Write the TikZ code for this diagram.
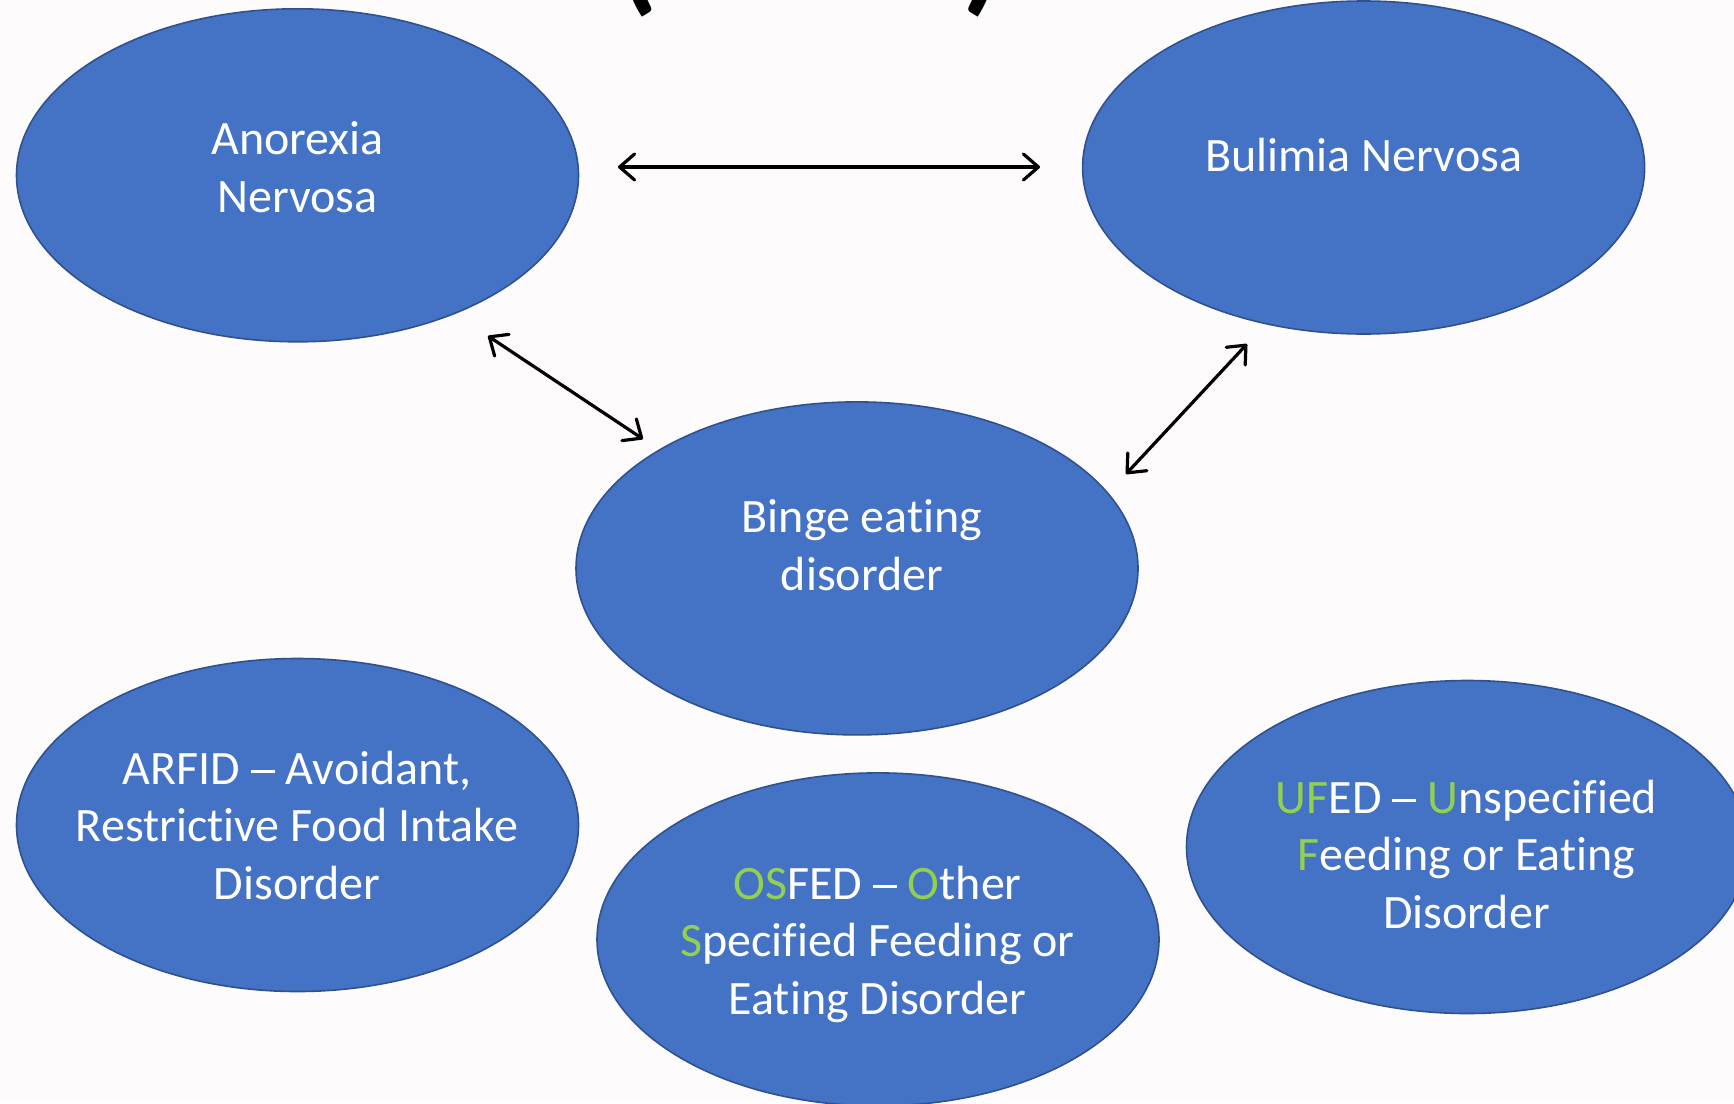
\documentclass[tikz,border=0pt]{standalone}
\usepackage{fontspec}
\setmainfont{Carlito}[Ligatures={NoCommon}]
\usetikzlibrary{shapes.geometric,arrows.meta,calc}
\definecolor{bg}{RGB}{253,251,252}
\definecolor{ellfill}{HTML}{4472C4}
\definecolor{elldraw}{HTML}{2F528F}
\definecolor{hl}{HTML}{92D050}
\tikzset{
  ell/.style={ellipse, fill=ellfill, draw=elldraw, line width=1.6pt,
    minimum width=562pt, minimum height=333pt, inner sep=0pt},
  txt/.style={text=white, align=center, inner sep=0pt,
    font=\fontsize{48}{57.5}\selectfont},
  link/.style={line width=3.2pt, {Straight Barb[length=15pt,width=26pt,round]}-{Straight Barb[length=15pt,width=26pt,round]}},
  paren/.style={font=\bfseries\fontsize{130}{150}\selectfont, anchor=base, inner sep=0pt}
}
\newcommand{\dsh}{\rule[0.23em]{0.5em}{0.065em}}
\begin{document}
\begin{tikzpicture}[x=1pt,y=-1pt]
\useasboundingbox (0,0) rectangle (1734,1103);
\clip (0,0) rectangle (1734,1103);
\fill[bg] (0,0) rectangle (1734,1103);

% clipped title fragments
\node[paren] (pl) at (638,-3) {(};
\node[paren] (pr) at (983,-3) {)};

% ellipses
\node[ell] (an) at (297.5,175.3) {};
\node[ell] (bn) at (1363.6,167.5) {};
\node[ell] (be) at (857,568.4) {};
\node[ell] (ar) at (297.5,825) {};
\node[ell] (os) at (878,939.4) {};
\node[ell] (uf) at (1467.5,847) {};

% texts
\node[txt] (tan) at (297.5,167) {Anorexia\\Nervosa};
\node[txt] (tbn) at (1363.6,154.8) {Bulimia Nervosa};
\node[txt] (tbe) at (862,545) {Binge eating\\disorder};
\node[txt] (tar) at (297,825) {ARFID \dsh{} Avoidant,\\Restrictive Food Intake\\Disorder};
\node[txt] (tos) at (877.5,944.4) {\textcolor{hl}{OS}FED \dsh{} \textcolor{hl}{O}ther\\\textcolor{hl}{S}pecified Feeding or\\Eating Disorder};
\node[txt] (tuf) at (1466.5,854.3) {\textcolor{hl}{UF}ED \dsh{} \textcolor{hl}{U}nspecified\\\textcolor{hl}{F}eeding or Eating\\Disorder};

% connector end points
\coordinate (h1) at (618,167);
\coordinate (h2) at (1040,167);
\coordinate (d1) at (488,336);
\coordinate (d2) at (643,439);
\coordinate (e1) at (1247,344);
\coordinate (e2) at (1126,474);

\draw[link] (h1) -- (h2);
\draw[link] (d1) -- (d2);
\draw[link] (e1) -- (e2);
\end{tikzpicture}
\end{document}
